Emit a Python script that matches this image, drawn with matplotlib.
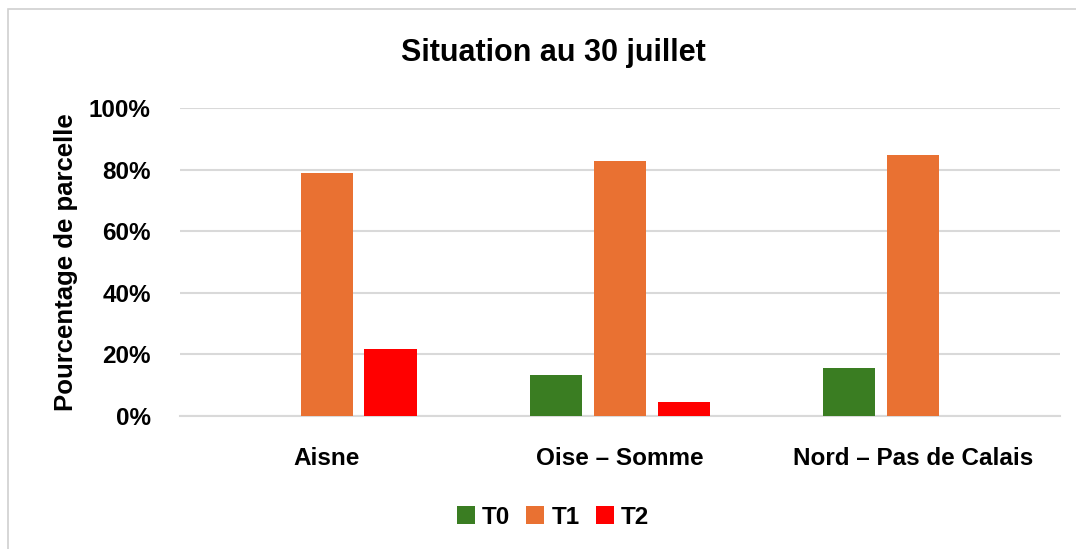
import matplotlib
matplotlib.use("Agg")
from matplotlib import pyplot as plt
from matplotlib.patches import Rectangle
from matplotlib.ticker import PercentFormatter
import numpy as np

categories = ["Aisne", "Oise – Somme", "Nord – Pas de Calais"]
series = ["T0", "T1", "T2"]
t0 = [0.0, 13.2, 15.6]
t1 = [78.8, 82.8, 84.7]
t2 = [21.6, 4.6, 0.0]
colors = ["#3a7d22", "#e97132", "#ff0000"]

plt.rcParams['font.family'] = ['Liberation Sans', 'DejaVu Sans']

fig = plt.figure(figsize=(10.76, 5.49), dpi=100)
ax = fig.add_axes([0.1673, 0.2423, 0.8177, 0.561])

# light frame around the chart area
fig.patches.append(Rectangle((8 / 1076, -0.1), 1.1, 1 - 9 / 549 + 0.1,
                             transform=fig.transFigure, fill=False,
                             edgecolor="#d0d0d0", linewidth=1.2))

x = np.arange(len(categories))
width = 0.178
step = 0.218
for i, (vals, name) in enumerate(zip([t0, t1, t2], series)):
    ax.bar(x + (i - 1) * step, vals, width=width, color=colors[i], label=name, zorder=3)

ax.set_xlim(-0.5, 2.5)
ax.set_ylim(0, 100)
ax.set_yticks(np.arange(0, 101, 20))
ax.yaxis.set_major_formatter(PercentFormatter(decimals=0))
ax.set_xticks(x)
ax.set_xticklabels(categories)

ax.grid(axis='y', color="#d9d9d9", linewidth=1.5, zorder=0)
for side in ['top', 'right', 'left']:
    ax.spines[side].set_visible(False)
ax.spines['bottom'].set_color("#d9d9d9")
ax.spines['bottom'].set_linewidth(1.5)
ax.tick_params(axis='both', length=0)
ax.tick_params(axis='y', labelsize=17.5, pad=21)
ax.tick_params(axis='x', labelsize=17.5, pad=22)
for lab in ax.get_xticklabels() + ax.get_yticklabels():
    lab.set_fontweight('bold')

ax.set_ylabel("Pourcentage de parcelle", fontsize=18.5, fontweight='bold', labelpad=8)
fig.text(0.514, 0.903, "Situation au 30 juillet", ha='center', va='center',
         fontsize=22, fontweight='bold')

fig.legend(loc='center', bbox_to_anchor=(0.514, 0.058), ncol=3, frameon=False,
           prop={'size': 17.5, 'weight': 'bold'}, handlelength=0.75, handleheight=0.75,
           handletextpad=0.3, columnspacing=0.65)

plt.savefig("out.png", dpi=100)
